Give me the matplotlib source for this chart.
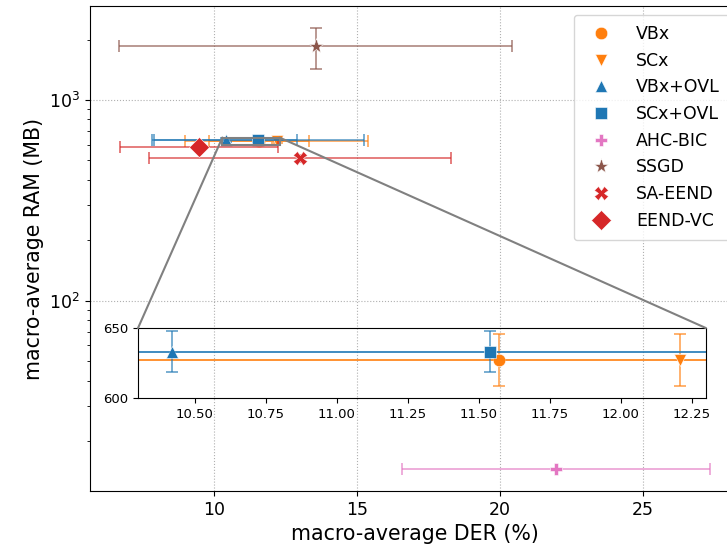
import matplotlib
matplotlib.use("Agg")
import matplotlib.pyplot as plt
from matplotlib.patches import ConnectionPatch

# values
methods = ["VBx", "SCx", "VBx+OVL", "SCx+OVL", "AHC-BIC", "SSGD", "SA-EEND", "EEND-VC"]
der = [11.57, 12.21, 10.42, 11.54, 21.96, 13.57, 13.00, 9.47]
der_err = [1.75, 3.2, 2.5, 3.7, 5.38, 6.87, 5.28, 2.76]
ram = [627, 627, 633, 633, 14.6, 1857, 513, 580]
ram_err = [18.5, 18.5, 14.8, 14.8, 0, 430, 20, 0]

markers = ["o", "v", "^", "s", "P", "*", "X", "D"]
colors = ["#ff7f0e", "#ff7f0e", "#1f77b4", "#1f77b4",
          "#e377c2", "#8c564b", "#d62728", "#d62728"]
msizes = [9, 9, 9, 9, 9, 11, 10, 10]

fig = plt.figure(figsize=(7.27, 5.57), dpi=100)
ax = fig.add_axes([90 / 727, 66 / 557, 649 / 727, 485 / 557])
ax.set_yscale("log")

axins = ax.inset_axes([0.074, 0.192, 0.875, 0.144])
axins.set_facecolor("none")

for target in (ax, axins):
    for i, m in enumerate(methods):
        target.errorbar(der[i], ram[i], xerr=der_err[i],
                        yerr=ram_err[i] if ram_err[i] > 0 else None,
                        fmt="none", ecolor=colors[i], alpha=0.7,
                        elinewidth=1.2, capsize=4, capthick=1.2)
        target.plot(der[i], ram[i], linestyle="none", marker=markers[i],
                    color=colors[i], markersize=msizes[i],
                    markeredgecolor="white", markeredgewidth=0.4,
                    label=m if target is ax else None)

ax.set_xlim(5.67, 28.37)
ax.set_ylim(11.3, 2937)

x0, x1, y0, y1 = 10.3, 12.3, 600, 650
axins.set_xlim(x0, x1)
axins.set_ylim(y0, y1)
axins.set_yticks([600, 650])
axins.set_xticks([10.5, 10.75, 11.0, 11.25, 11.5, 11.75, 12.0, 12.25])
axins.set_xticklabels(["10.50", "10.75", "11.00", "11.25", "11.50",
                       "11.75", "12.00", "12.25"])
axins.tick_params(labelsize=9.5)

# zoom box and the two connector lines
ax.indicate_inset([x0, y0, x1 - x0, y1 - y0], edgecolor="gray", alpha=1,
                  linewidth=1.5)
for xr, xa in ((x0, 0), (x1, 1)):
    con = ConnectionPatch(xyA=(xr, y1), coordsA=ax.transData,
                          xyB=(xa, 1), coordsB=axins.transAxes,
                          color="gray", linewidth=1.5)
    fig.add_artist(con)

ax.grid(True, which="major", linestyle=":", color="#b0b0b0")
ax.set_axisbelow(True)
ax.tick_params(labelsize=12.5)
ax.set_xlabel("macro-average DER (%)", fontsize=14.8)
ax.set_ylabel("macro-average RAM (MB)", fontsize=14.8)
ax.legend(loc="upper right", fontsize=12.5, handletextpad=1.0,
          borderpad=0.6, labelspacing=0.5)

fig.savefig("out.png", dpi=100)
